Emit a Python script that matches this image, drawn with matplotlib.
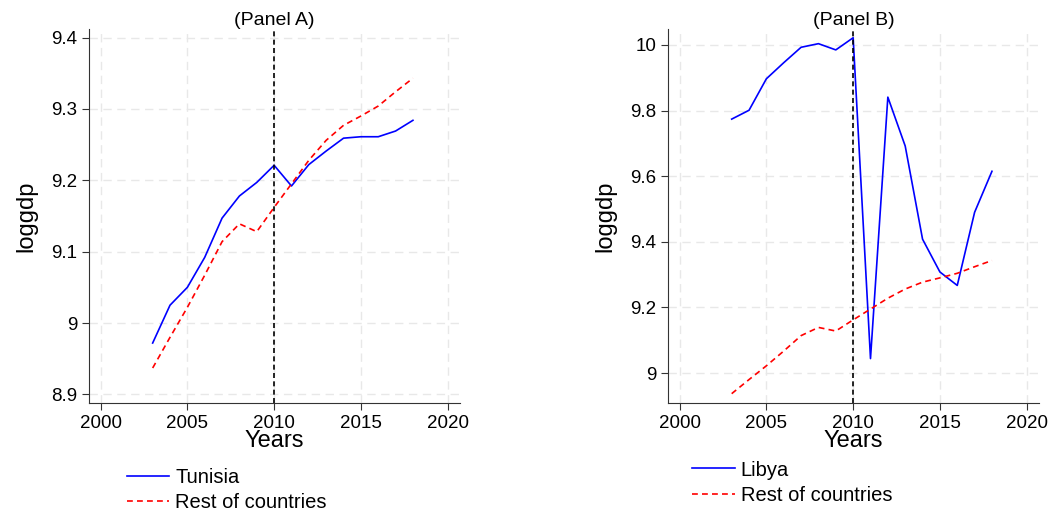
import matplotlib
matplotlib.use('Agg')
import matplotlib.pyplot as plt
from matplotlib.ticker import FuncFormatter

plt.rcParams['font.family'] = ['Liberation Sans', 'DejaVu Sans']

years = list(range(2003, 2019))
tunisia = [8.972, 9.025, 9.050, 9.092, 9.147, 9.178, 9.197, 9.221,
           9.192, 9.222, 9.241, 9.259, 9.261, 9.261, 9.269, 9.284]
libya = [9.774, 9.801, 9.897, 9.946, 9.993, 10.004, 9.985, 10.022,
         9.044, 9.841, 9.692, 9.408, 9.308, 9.267, 9.490, 9.615]
rest = [8.937, 8.980, 9.022, 9.067, 9.114, 9.139, 9.128, 9.162,
        9.195, 9.228, 9.256, 9.277, 9.290, 9.304, 9.324, 9.343]

xticks = [2000, 2005, 2010, 2015, 2020]
yticks_a = [8.9, 9.0, 9.1, 9.2, 9.3, 9.4]
yticks_b = [9.0, 9.2, 9.4, 9.6, 9.8, 10.0]


def fmt(v, pos):
    s = '%.1f' % v
    if s.endswith('.0'):
        s = s[:-2]
    return s


def panel(ax, country, name, title, yticks, ylim):
    ax.plot(years, country, color='#0000ff', lw=1.2, label=name)
    ax.plot(years, rest, color='#ff0000', lw=1.2, ls=(0, (3.5, 2.5)), label='Rest of countries')
    ax.axvline(2010, color='black', lw=1.2, ls=(0, (3, 2)))
    ax.set_xlim(1999.33, 2020.71)
    ax.set_ylim(*ylim)
    ax.set_xticks(xticks)
    ax.set_yticks(yticks)
    ax.yaxis.set_major_formatter(FuncFormatter(fmt))
    ax.grid(True, color='#e8e8e8', ls=(0, (6, 4)), lw=1.0)
    ax.set_axisbelow(True)
    for s in ['top', 'right']:
        ax.spines[s].set_visible(False)
    ax.spines['left'].set_color('#333333')
    ax.spines['bottom'].set_color('#333333')
    ax.tick_params(labelsize=13.5, length=5, color='#333333')
    ax.set_title(title, fontsize=14, pad=2)
    ax.set_xlabel('Years', fontsize=17, labelpad=-1)
    ax.set_ylabel('loggdp', fontsize=17, labelpad=10)


fig = plt.figure(figsize=(10.48, 5.12), dpi=100)
ax1 = fig.add_axes([0.0849, 0.2129, 0.354, 0.730])
ax2 = fig.add_axes([0.6374, 0.2129, 0.354, 0.730])

panel(ax1, tunisia, 'Tunisia', '(Panel A)', yticks_a, (8.888, 9.4116))
panel(ax2, libya, 'Libya', '(Panel B)', yticks_b, (8.9086, 10.048))

leg_kw = dict(loc='upper left', frameon=False, fontsize=14.5, handlelength=2.1,
              handletextpad=0.3, labelspacing=0.3, borderpad=0, borderaxespad=0)
ax1.legend(bbox_to_anchor=(0.1212, 0.0855), bbox_transform=fig.transFigure, **leg_kw)
ax2.legend(bbox_to_anchor=(0.6606, 0.1005), bbox_transform=fig.transFigure, **leg_kw)

fig.savefig('out.png', dpi=100)
